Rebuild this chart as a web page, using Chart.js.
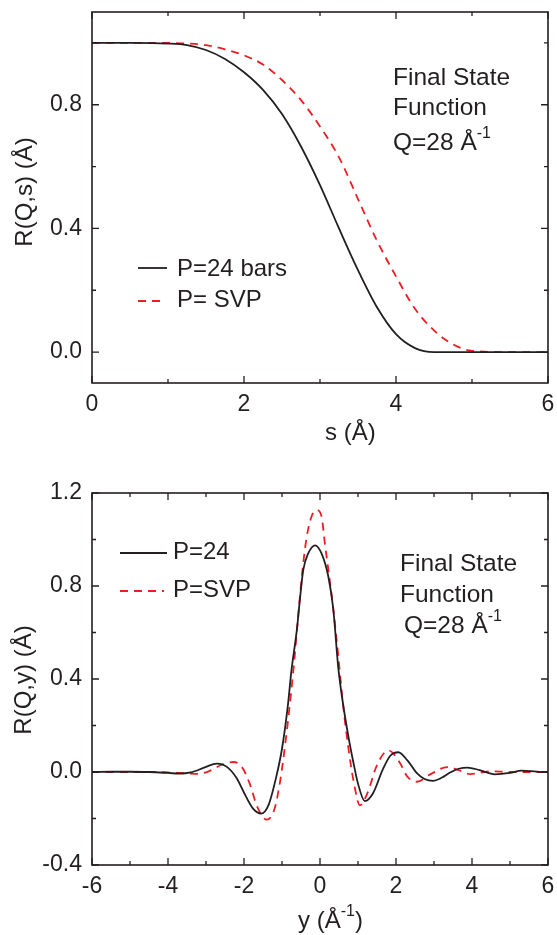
<!DOCTYPE html>
<html>
<head>
<meta charset="utf-8">
<script src="https://cdn.jsdelivr.net/npm/chart.js@4/dist/chart.umd.min.js"></script>
<style>
  body { margin: 0; background: #fff; width: 557px; height: 935px; overflow: hidden; }
  .box { position: absolute; left: 0; width: 557px; }
  #top { top: 0; height: 450px; }
  #bottom { top: 450px; height: 485px; }
</style>
</head>
<body>
<div class="box" id="top"><canvas id="c1" width="557" height="450"></canvas></div>
<div class="box" id="bottom"><canvas id="c2" width="557" height="485"></canvas></div>
<script>
// top panel: R(Q,s) against s
var sBars = [0, 0.5, 1.0, 1.25, 1.5, 1.75, 2.0, 2.25, 2.5, 2.75, 3.0, 3.25, 3.5, 3.75, 4.0, 4.25, 4.5, 5.0, 5.5, 6.0];
var rBars = [1.0, 1.0, 0.998, 0.993, 0.977, 0.948, 0.905, 0.848, 0.77, 0.665, 0.54, 0.40, 0.265, 0.145, 0.058, 0.013, 0.0, 0.0, 0.0, 0.0];
var sSvp = [0, 0.5, 1.0, 1.25, 1.5, 1.75, 2.0, 2.25, 2.5, 2.75, 3.0, 3.25, 3.5, 3.75, 4.0, 4.25, 4.5, 4.75, 5.0, 5.5, 6.0];
var rSvp = [1.0, 1.0, 1.0, 0.998, 0.993, 0.979, 0.96, 0.93, 0.88, 0.815, 0.73, 0.63, 0.495, 0.36, 0.245, 0.14, 0.07, 0.025, 0.004, 0.0, 0.0];
var sTicks = [0, 2, 4, 6];
var rsTicks = [0, 0.4, 0.8];

// bottom panel: R(Q,y) against y
var y24 = [-6, -5.5, -5, -4.5, -4, -3.7, -3.4, -3.0, -2.72, -2.45, -2.2, -1.95, -1.75, -1.55, -1.35, -1.15, -1.0, -0.85, -0.75, -0.61, -0.53, -0.44, -0.31, -0.13, 0.04, 0.22, 0.35, 0.48, 0.6, 0.75, 0.88, 1.0, 1.18, 1.4, 1.65, 1.85, 2.06, 2.3, 2.55, 2.75, 2.98, 3.2, 3.45, 3.65, 3.88, 4.2, 4.6, 5.0, 5.3, 5.7, 6.0];
var r24 = [0, 0.001, 0.001, 0, -0.004, -0.007, -0.002, 0.022, 0.036, 0.022, -0.025, -0.105, -0.16, -0.179, -0.14, -0.02, 0.1, 0.28, 0.438, 0.61, 0.74, 0.869, 0.94, 0.975, 0.94, 0.84, 0.70, 0.45, 0.30, 0.15, 0.04, -0.05, -0.125, -0.09, 0.01, 0.07, 0.085, 0.05, -0.005, -0.03, -0.038, -0.025, 0.0, 0.014, 0.019, 0.008, -0.01, -0.004, 0.006, 0.002, 0];
var ySvp = [-6, -5, -4.5, -4, -3.5, -3.2, -2.9, -2.6, -2.28, -2.05, -1.85, -1.65, -1.4, -1.2, -1.05, -0.9, -0.7, -0.58, -0.46, -0.35, -0.22, -0.09, 0.04, 0.13, 0.22, 0.35, 0.48, 0.6, 0.75, 0.88, 1.05, 1.25, 1.5, 1.8, 2.1, 2.3, 2.55, 2.9, 3.35, 3.7, 3.95, 4.5, 5.0, 6.0];
var rySvp = [0, 0, 0, -0.002, -0.006, -0.008, 0.005, 0.03, 0.043, 0.02, -0.05, -0.15, -0.205, -0.16, -0.04, 0.14, 0.438, 0.66, 0.87, 1.01, 1.10, 1.127, 1.10, 0.98, 0.87, 0.70, 0.5, 0.3, 0.1, -0.036, -0.143, -0.09, 0.03, 0.093, 0.04, -0.02, -0.042, -0.01, 0.021, 0.005, -0.009, 0.003, 0, 0];
var yTicks = [-6, -4, -2, 0, 2, 4, 6];
var ryTicks = [-0.4, 0.0, 0.4, 0.8, 1.2];

var FONT = 'Arial, "Liberation Sans", sans-serif';
var INK = '#231f20';
var RED = '#ee1c25';

function pts(xs, ys) {
  return xs.map(function(x, i) { return {x: x, y: ys[i]}; });
}

// text made of pieces, some of them raised
function drawParts(ctx, x, y, parts, size) {
  parts.forEach(function(p) {
    var fs = p.sup ? Math.round(size * 0.66) : size;
    ctx.font = fs + 'px ' + FONT;
    ctx.fillText(p.t, x, p.sup ? y - size * 0.48 : y);
    x += ctx.measureText(p.t).width;
  });
}

var framePlugin = {
  id: 'frame',
  afterDraw: function(chart, args, opts) {
    var ctx = chart.ctx, a = chart.chartArea;
    var xs = chart.scales.x, ys = chart.scales.y;
    ctx.save();
    ctx.strokeStyle = INK;
    ctx.lineWidth = 1.6;
    ctx.strokeRect(a.left, a.top, a.right - a.left, a.bottom - a.top);

    // inward ticks on all four sides, minor ones halfway between the labelled ones
    ctx.lineWidth = 1.3;
    ctx.beginPath();
    var hx = opts.xStep / 2, hy = opts.yStep / 2;
    for (var v = Math.ceil(xs.min / hx - 1e-9) * hx; v <= xs.max + 1e-9; v += hx) {
      var px = xs.getPixelForValue(v);
      var major = Math.abs(Math.round(v / opts.xStep) * opts.xStep - v) < 1e-6;
      var len = major ? 7 : 4;
      ctx.moveTo(px, a.bottom); ctx.lineTo(px, a.bottom - len);
      ctx.moveTo(px, a.top); ctx.lineTo(px, a.top + len);
    }
    for (var w = Math.ceil(ys.min / hy - 1e-9) * hy; w <= ys.max + 1e-9; w += hy) {
      var py = ys.getPixelForValue(w);
      var maj = Math.abs(Math.round(w / opts.yStep) * opts.yStep - w) < 1e-6;
      var l = maj ? 7 : 4;
      ctx.moveTo(a.left, py); ctx.lineTo(a.left + l, py);
      ctx.moveTo(a.right, py); ctx.lineTo(a.right - l, py);
    }
    ctx.stroke();

    // legend, drawn from the dataset styles
    ctx.fillStyle = INK;
    ctx.textBaseline = 'alphabetic';
    ctx.textAlign = 'left';
    opts.legend.forEach(function(item, i) {
      var ds = chart.data.datasets[i];
      ctx.strokeStyle = ds.borderColor;
      ctx.lineWidth = ds.borderWidth;
      ctx.setLineDash(ds.borderDash || []);
      ctx.beginPath();
      ctx.moveTo(item.x0, item.ly); ctx.lineTo(item.x1, item.ly);
      ctx.stroke();
      ctx.setLineDash([]);
      ctx.font = opts.fontSize + 'px ' + FONT;
      ctx.fillText(ds.label, item.tx, item.ty);
    });

    // notes and axis titles
    opts.notes.forEach(function(n) {
      drawParts(ctx, n.x, n.y, n.parts, n.size);
    });

    ctx.save();
    ctx.translate(opts.yTitle.x, opts.yTitle.y);
    ctx.rotate(-Math.PI / 2);
    ctx.textAlign = 'center';
    ctx.textBaseline = 'middle';
    ctx.font = opts.fontSize + 'px ' + FONT;
    ctx.fillText(opts.yTitle.text, 0, 0);
    ctx.restore();
    ctx.restore();
  }
};

function fixedTicks(list) {
  return function(scale) {
    scale.ticks = list.map(function(v) { return {value: v}; });
  };
}

function makeOptions(cfg) {
  return {
    responsive: false,
    animation: false,
    layout: { padding: { top: cfg.padTop, right: 9, left: 0, bottom: 0 } },
    elements: { point: { radius: 0 }, line: { cubicInterpolationMode: 'monotone' } },
    plugins: {
      legend: { display: false },
      tooltip: { enabled: false },
      frame: cfg.frame
    },
    scales: {
      x: {
        type: 'linear', min: cfg.xMin, max: cfg.xMax,
        afterBuildTicks: fixedTicks(cfg.xTicks),
        afterFit: function(s) { s.height = cfg.xHeight; s.paddingLeft = 0; s.paddingRight = 0; },
        grid: { display: false, drawTicks: false },
        border: { display: false },
        ticks: { padding: 8, color: INK, font: { family: FONT, size: 23 }, maxRotation: 0, autoSkip: false }
      },
      y: {
        type: 'linear', min: cfg.yMin, max: cfg.yMax,
        afterBuildTicks: fixedTicks(cfg.yTicks),
        afterFit: function(s) { s.width = 92; s.paddingTop = 0; s.paddingBottom = 0; },
        grid: { display: false, drawTicks: false },
        border: { display: false },
        ticks: {
          padding: 10, color: INK, font: { family: FONT, size: 23 }, autoSkip: false,
          callback: function(v) { return Math.abs(v) < 1e-9 ? '0.0' : v.toFixed(1); }
        }
      }
    }
  };
}

new Chart(document.getElementById('c1'), {
  type: 'line',
  data: {
    datasets: [
      { label: 'P=24 bars', data: pts(sBars, rBars), borderColor: INK, borderWidth: 1.8, fill: false },
      { label: 'P= SVP', data: pts(sSvp, rSvp), borderColor: RED, borderWidth: 1.8, borderDash: [8, 6], fill: false }
    ]
  },
  options: makeOptions({
    padTop: 12, xHeight: 67, xMin: 0, xMax: 6, yMin: -0.1, yMax: 1.1,
    xTicks: sTicks, yTicks: rsTicks,
    frame: {
      xStep: 2, yStep: 0.4, fontSize: 24,
      legend: [
        { x0: 138, x1: 167, ly: 268, tx: 177, ty: 276 },
        { x0: 138, x1: 166, ly: 301, tx: 177, ty: 307 }
      ],
      notes: [
        { x: 393, y: 85, size: 24.5, parts: [{t: 'Final State'}] },
        { x: 393, y: 115, size: 24.5, parts: [{t: 'Function'}] },
        { x: 393, y: 150, size: 24.5, parts: [{t: 'Q=28 Å'}, {t: '-1', sup: true}] },
        { x: 325, y: 440, size: 24, parts: [{t: 's (Å)'}] }
      ],
      yTitle: { x: 25, y: 192, text: 'R(Q,s) (Å)' }
    }
  }),
  plugins: [framePlugin]
});

new Chart(document.getElementById('c2'), {
  type: 'line',
  data: {
    datasets: [
      { label: 'P=24', data: pts(y24, r24), borderColor: INK, borderWidth: 1.8, fill: false },
      { label: 'P=SVP', data: pts(ySvp, rySvp), borderColor: RED, borderWidth: 1.8, borderDash: [8, 6], fill: false }
    ]
  },
  options: makeOptions({
    padTop: 43, xHeight: 70, xMin: -6, xMax: 6, yMin: -0.4, yMax: 1.2,
    xTicks: yTicks, yTicks: ryTicks,
    frame: {
      xStep: 2, yStep: 0.4, fontSize: 24,
      legend: [
        { x0: 120, x1: 167, ly: 103, tx: 173, ty: 109 },
        { x0: 120, x1: 164, ly: 141, tx: 173, ty: 147 }
      ],
      notes: [
        { x: 400, y: 121, size: 24.5, parts: [{t: 'Final State'}] },
        { x: 400, y: 152, size: 24.5, parts: [{t: 'Function'}] },
        { x: 404, y: 183, size: 24.5, parts: [{t: 'Q=28 Å'}, {t: '-1', sup: true}] },
        { x: 298, y: 478, size: 24, parts: [{t: 'y (Å'}, {t: '-1', sup: true}, {t: ')'}] }
      ],
      yTitle: { x: 24, y: 230, text: 'R(Q,y) (Å)' }
    }
  }),
  plugins: [framePlugin]
});
</script>
</body>
</html>
